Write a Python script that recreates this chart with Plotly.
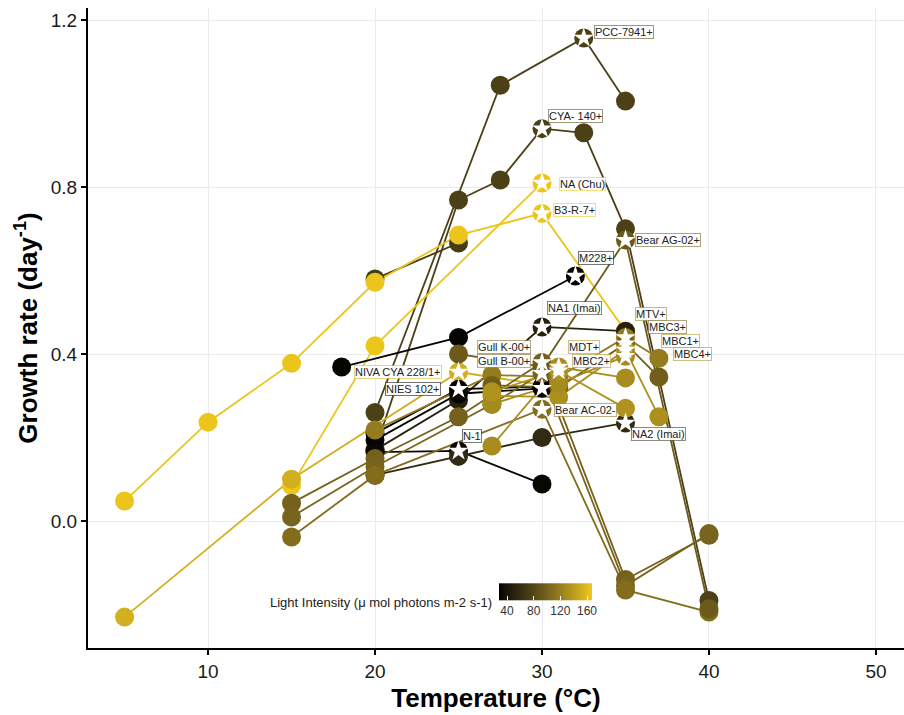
import numpy as np
import plotly.graph_objects as go
import plotly.colors as pc

# ---------------- data ----------------
# Each strain: temperatures (°C), growth rates (day^-1), light intensity, temperature of the starred optimum
dark6_t = [20, 25];                        dark6_r = [0.58, 0.666]
pcc_t = [20, 27.5, 32.5, 35];              pcc_r = [0.26, 1.044, 1.157, 1.006]
cya_t = [20, 25, 27.5, 30, 32.5, 35, 40];  cya_r = [0.17, 0.769, 0.817, 0.94, 0.93, 0.70, -0.19]
b3_t = [5, 10, 15, 20, 25, 30, 35];        b3_r = [0.048, 0.237, 0.378, 0.572, 0.685, 0.737, 0.455]
chu_t = [15, 20, 30];                      chu_r = [0.085, 0.42, 0.81]
niva_t = [5, 15, 25, 31];                  niva_r = [-0.23, 0.10, 0.357, 0.32]
m228_t = [18, 25, 32];                     m228_r = [0.369, 0.44, 0.587]
na1_t = [20, 25, 30, 35];                  na1_r = [0.17, 0.29, 0.465, 0.455]
nies_t = [20, 25, 30];                     nies_r = [0.21, 0.316, 0.322]
blk_t = [20, 25, 30];                      blk_r = [0.194, 0.305, 0.318]
n1_t = [20, 25, 30];                       n1_r = [0.165, 0.168, 0.089]
na2_t = [20, 25, 30, 35];                  na2_r = [0.11, 0.155, 0.20, 0.235]
gullk_t = [15, 20, 25, 30, 35, 40];        gullk_r = [0.043, 0.15, 0.25, 0.38, -0.14, -0.034]
gullb_t = [15, 20, 27, 30, 35, 40];        gullb_r = [0.01, 0.13, 0.28, 0.354, -0.155, -0.03]
bearac_t = [15, 20, 30, 35, 40];           bearac_r = [-0.038, 0.11, 0.268, -0.165, -0.218]
bearag_t = [25, 30, 35, 40];               bearag_r = [0.40, 0.37, 0.673, -0.21]
mtv_t = [20, 27, 31, 35, 37];              mtv_r = [0.218, 0.35, 0.345, 0.44, 0.39]
mbc3_t = [27, 31, 35, 37];                 mbc3_r = [0.325, 0.32, 0.425, 0.345]
mbc1_t = [27, 31, 35, 37];                 mbc1_r = [0.30, 0.297, 0.41, 0.25]
mbc4_t = [27, 31, 35];                     mbc4_r = [0.28, 0.33, 0.395]
mdt_t = [27, 31, 35];                      mdt_r = [0.18, 0.369, 0.343]
mbc2_t = [27, 31, 35];                     mbc2_r = [0.31, 0.36, 0.27]

strain_names = ["", "PCC-7941+", "CYA- 140+", "B3-R-7+", "NA (Chu)", "NIVA CYA 228/1+",
                "M228+", "NA1 (Imai)", "NIES 102+", "", "N-1", "NA2 (Imai)",
                "Gull K-00+", "Gull B-00+", "Bear AC-02-", "Bear AG-02+",
                "MTV+", "MBC3+", "MBC1+", "MBC4+", "MDT+", "MBC2+"]
strain_temps = [dark6_t, pcc_t, cya_t, b3_t, chu_t, niva_t, m228_t, na1_t, nies_t, blk_t,
                n1_t, na2_t, gullk_t, gullb_t, bearac_t, bearag_t, mtv_t, mbc3_t, mbc1_t,
                mbc4_t, mdt_t, mbc2_t]
strain_rates = [dark6_r, pcc_r, cya_r, b3_r, chu_r, niva_r, m228_r, na1_r, nies_r, blk_r,
                n1_r, na2_r, gullk_r, gullb_r, bearac_r, bearag_r, mtv_r, mbc3_r, mbc1_r,
                mbc4_r, mdt_r, mbc2_r]
strain_light = [72, 75, 75, 166, 167, 152, 30, 50, 29, 30, 32, 58, 100, 102, 108, 95,
                118, 98, 132, 128, 130, 134]
strain_star_temp = [None, 32.5, 30, 30, 30, 25, 32, 30, 25, 30, 25, 35, 30, 30, 30, 35,
                    35, 35, 35, 35, 31, 31]

light_min, light_max = 28, 167.5
light_ticks = [40, 80, 120, 160]
x_ticks = [10, 20, 30, 40, 50]
y_ticks = [0.0, 0.4, 0.8, 1.2]

# label placement (style): anchor side and pixel offsets from the starred point
label_style = {
    "PCC-7941+": ("left", 10, 6), "CYA- 140+": ("left", 6, 13), "NA (Chu)": ("left", 17, -1),
    "B3-R-7+": ("left", 11, 3), "Bear AG-02+": ("left", 10, 0), "M228+": ("left", 3, 18),
    "NA1 (Imai)": ("left", 5, 19), "Gull K-00+": ("right", -11, 15),
    "Gull B-00+": ("right", -11, 12), "NIVA CYA 228/1+": ("right", -17, 0),
    "NIES 102+": ("right", -18, 0), "N-1": ("left", 3, 15), "Bear AC-02-": ("left", 12, -1),
    "NA2 (Imai)": ("left", 6, -11), "MDT+": ("left", 9, 20), "MBC2+": ("left", 13, 10),
    "MTV+": ("left", 10, 23), "MBC3+": ("left", 23, 17), "MBC1+": ("left", 36, 9),
    "MBC4+": ("left", 48, 2),
}

# ---------------- colour scale: black -> gold interpolated in CIE Lab ----------------
def _lin(c):
    c = np.asarray(c, float) / 255.0
    return np.where(c <= 0.04045, c / 12.92, ((c + 0.055) / 1.055) ** 2.4)

def _unlin(c):
    c = np.clip(c, 0, 1)
    return np.where(c <= 0.0031308, 12.92 * c, 1.055 * c ** (1 / 2.4) - 0.055) * 255

M = np.array([[0.4124, 0.3576, 0.1805], [0.2126, 0.7152, 0.0722], [0.0193, 0.1192, 0.9505]])
WN = np.array([0.95047, 1.0, 1.08883])

def to_lab(rgb):
    xyz = M @ _lin(rgb) / WN
    f = np.where(xyz > (6 / 29) ** 3, np.cbrt(xyz), xyz / (3 * (6 / 29) ** 2) + 4 / 29)
    return np.array([116 * f[1] - 16, 500 * (f[0] - f[1]), 200 * (f[1] - f[2])])

def from_lab(lab):
    L, a, b = lab
    fy = (L + 16) / 116
    f = np.array([fy + a / 500, fy, fy - b / 200])
    xyz = np.where(f > 6 / 29, f ** 3, 3 * (6 / 29) ** 2 * (f - 4 / 29)) * WN
    rgb = _unlin(np.linalg.solve(M, xyz))
    return "rgb(%d,%d,%d)" % tuple(np.round(rgb).astype(int))

lab_lo, lab_hi = to_lab([0, 0, 0]), to_lab([238, 199, 28])
colorscale = [[s, from_lab(lab_lo + (lab_hi - lab_lo) * s)] for s in np.linspace(0, 1, 21)]

def light_color(v):
    return pc.sample_colorscale(colorscale, [(v - light_min) / (light_max - light_min)])[0]

def with_alpha(rgbstr, a):
    return rgbstr.replace("rgb(", "rgba(").replace(")", ",%.2f)" % a)

FONT = "Liberation Sans, Arial, sans-serif"
fig = go.Figure()

# lines
for name, t, r, L in zip(strain_names, strain_temps, strain_rates, strain_light):
    fig.add_trace(go.Scatter(x=t, y=r, mode="lines", showlegend=False, hoverinfo="skip",
                             line=dict(color=light_color(L), width=1.8)))

# points (coloured by light intensity through the colour scale)
all_t, all_r, all_l = [], [], []
for t, r, L in zip(strain_temps, strain_rates, strain_light):
    all_t += t; all_r += r; all_l += [L] * len(t)
fig.add_trace(go.Scatter(
    x=all_t, y=all_r, mode="markers", showlegend=False,
    marker=dict(size=19, color=all_l, colorscale=colorscale, cmin=light_min, cmax=light_max,
                line=dict(width=0), showscale=True,
                colorbar=dict(orientation="h", x=(545.5 - 88) / 816, xanchor="center",
                              y=(648 - 603) / 640, yanchor="middle", len=93, lenmode="pixels",
                              thickness=17, thicknessmode="pixels", outlinewidth=0,
                              xpad=0, ypad=0, tickvals=light_ticks, ticks="inside",
                              tickcolor="white", ticklen=4, tickwidth=1,
                              tickfont=dict(size=12, color="#333", family=FONT)))))

# white stars on each strain's optimum
st_t, st_r = [], []
for name, t, r, s in zip(strain_names, strain_temps, strain_rates, strain_star_temp):
    if s is None:
        continue
    i = t.index(s)
    st_t.append(t[i]); st_r.append(r[i])
    if name:
        side, dx, dy = label_style[name]
        fig.add_annotation(x=t[i], y=r[i], text=name, showarrow=False, xanchor=side,
                           yanchor="middle", xshift=dx, yshift=dy,
                           font=dict(size=11, color="#222", family=FONT),
                           bgcolor="rgba(255,255,255,0.92)",
                           bordercolor=with_alpha(light_color(strain_light[strain_names.index(name)]), 0.55),
                           borderwidth=1, borderpad=0)
fig.add_trace(go.Scatter(x=st_t, y=st_r, mode="markers", showlegend=False, hoverinfo="skip",
                         marker=dict(symbol="star", size=15, color="white", line=dict(width=0))))

fig.add_annotation(x=(494 - 88) / 816, y=(648 - 602) / 640, xref="paper", yref="paper",
                   text="Light Intensity (\u03bc mol photons m-2 s-1)", showarrow=False,
                   xanchor="right", yanchor="middle",
                   font=dict(size=13, color="#222", family=FONT))

axis_common = dict(showgrid=True, gridcolor="#ebebeb", gridwidth=1, zeroline=False,
                   showline=True, linecolor="black", linewidth=2, ticks="outside",
                   ticklen=5, tickwidth=1.5, tickcolor="black",
                   tickfont=dict(size=19, color="#1a1a1a", family=FONT))
fig.update_xaxes(range=[2.81, 51.68], tickvals=x_ticks, **axis_common,
                 title=dict(text="<b>Temperature (°C)</b>", standoff=8,
                            font=dict(size=26, color="black", family=FONT)))
fig.update_yaxes(range=[-0.304, 1.229], tickvals=y_ticks, tickformat=".1f", **axis_common,
                 title=dict(text="<b>Growth rate (day<sup>-1</sup>)</b>", standoff=6,
                            font=dict(size=26, color="black", family=FONT)))
fig.update_layout(width=904, height=715, margin=dict(l=88, r=0, t=8, b=67),
                  plot_bgcolor="white", paper_bgcolor="white", font=dict(family=FONT))
fig.write_html("out.html")
